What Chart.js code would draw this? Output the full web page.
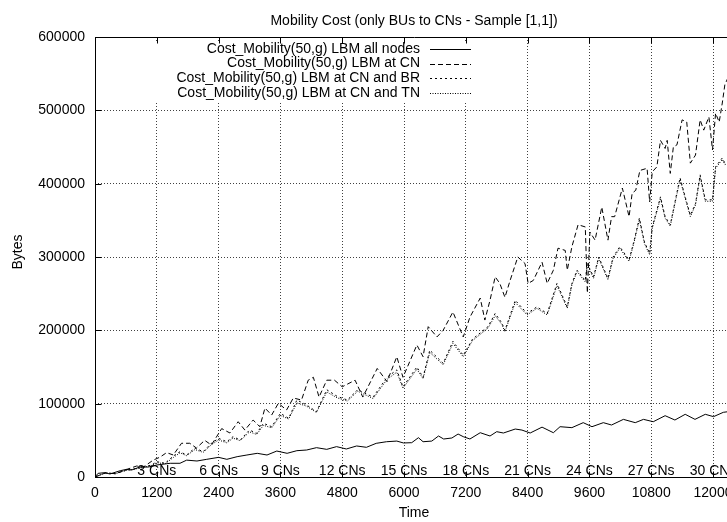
<!DOCTYPE html>
<html>
<head>
<meta charset="utf-8">
<title>Mobility Cost</title>
<script src="https://cdn.jsdelivr.net/npm/chart.js@4.4.1/dist/chart.umd.min.js"></script>
<style>
  html, body { margin: 0; padding: 0; background: #fff; overflow: hidden; }
  canvas { display: block; }
</style>
</head>
<body>
<canvas id="costChart" width="760" height="522"></canvas>
<script>
// Axis ticks and the "N CNs" markers along the bottom
const xTicks = [0, 1200, 2400, 3600, 4800, 6000, 7200, 8400, 9600, 10800, 12000];
const yTicks = [0, 100000, 200000, 300000, 400000, 500000, 600000];
const cnLabelTimes = [1200, 2400, 3600, 4800, 6000, 7200, 8400, 9600, 10800, 12000];
const cnLabels = ["3 CNs", "6 CNs", "9 CNs", "12 CNs", "15 CNs", "18 CNs", "21 CNs", "24 CNs", "27 CNs", "30 CNs"];

const seriesLabels = [
  "Cost_Mobility(50,g) LBM all nodes",
  "Cost_Mobility(50,g) LBM at CN",
  "Cost_Mobility(50,g) LBM at CN and BR",
  "Cost_Mobility(50,g) LBM at CN and TN",
];

// LBM all nodes
const allTime = [0, 60, 190, 290, 490, 610, 710, 870, 1040, 1200,
  1460, 1650, 1780, 1980, 2170, 2400, 2560, 2760, 2950, 3150,
  3340, 3530, 3730, 3920, 4110, 4300, 4500, 4690, 4880, 5080,
  5270, 5460, 5660, 5860, 5990, 6150, 6280, 6370, 6540, 6670,
  6770, 6930, 7050, 7150, 7280, 7480, 7670, 7800, 7930, 8160,
  8290, 8450, 8680, 8900, 9030, 9260, 9480, 9650, 9870, 10030,
  10260, 10490, 10650, 10840, 11070, 11260, 11460, 11650, 11850, 12010,
  12200, 12390];
const allCost = [0, 5000, 5900, 4100, 8600, 10400, 9500, 13600, 13600, 16400,
  18700, 18700, 23000, 21800, 24100, 26800, 24100, 27700, 30000, 32300,
  30000, 35400, 32300, 35900, 36800, 40000, 37700, 41400, 38200, 42300,
  40500, 45900, 48100, 49000, 46400, 46800, 53600, 48100, 49000, 55900,
  51800, 53200, 58600, 55000, 51800, 60400, 55900, 61800, 60000, 65400,
  64000, 60000, 68000, 60400, 68600, 67300, 74100, 68600, 74100, 70900,
  78600, 74100, 78600, 75400, 83600, 77700, 85500, 78600, 85500, 82300,
  88200, 90000];

// LBM at CN
const cnTime = [0, 200, 400, 600, 810, 940, 1130, 1260, 1390, 1520,
  1680, 1840, 1970, 2130, 2260, 2460, 2620, 2780, 2910, 3070,
  3200, 3300, 3430, 3560, 3720, 3850, 4010, 4140, 4240, 4350,
  4500, 4650, 4800, 5050, 5200, 5480, 5670, 5860, 5980, 6250,
  6370, 6470, 6640, 6760, 6950, 7150, 7280, 7480, 7570, 7670,
  7770, 7860, 7960, 8060, 8210, 8350, 8410, 8510, 8680, 8780,
  8900, 8990, 9130, 9170, 9260, 9380, 9520, 9560, 9610, 9710,
  9840, 9960, 10030, 10090, 10240, 10370, 10430, 10500, 10580, 10720,
  10770, 10820, 10910, 10980, 11070, 11110, 11170, 11230, 11300, 11400,
  11490, 11560, 11660, 11750, 11820, 11920, 11990, 12050, 12120, 12180,
  12230, 12390];
const cnCost = [0, 5500, 4500, 10000, 15000, 13600, 23000, 27000, 33200, 30000,
  46000, 46000, 39500, 50000, 43600, 66000, 60000, 75400, 64000, 77700,
  68600, 94000, 84500, 100500, 91400, 107700, 105000, 132000, 136000, 109000,
  132000, 132000, 123000, 132000, 109000, 148000, 130000, 164000, 136000, 180000,
  164000, 205000, 191000, 200000, 225000, 191000, 218000, 244000, 214000, 241000,
  273000, 264000, 245000, 268000, 300000, 291000, 264000, 268000, 293000, 264000,
  282000, 312000, 309000, 282000, 314000, 344000, 341000, 251000, 334000, 323000,
  368000, 323000, 355000, 355000, 394000, 355000, 387000, 391000, 418000, 421000,
  375000, 416000, 423000, 459000, 448000, 459000, 414000, 450000, 453000, 487000,
  484000, 428000, 439000, 487000, 473000, 491000, 446000, 496000, 484000, 510000,
  535000, 560000];

// LBM at CN and BR / at CN and TN (same sampling times)
const brTime = [0, 200, 400, 600, 870, 1100, 1200, 1360, 1520, 1650,
  1780, 1940, 2100, 2260, 2400, 2560, 2680, 2820, 3000, 3140,
  3270, 3430, 3600, 3760, 3920, 4110, 4300, 4500, 4700, 4900,
  5100, 5400, 5670, 5860, 5980, 6250, 6370, 6500, 6760, 6950,
  7150, 7330, 7630, 7770, 7900, 7960, 8160, 8390, 8580, 8780,
  8970, 9170, 9260, 9360, 9520, 9560, 9680, 9780, 9960, 10060,
  10190, 10370, 10470, 10570, 10670, 10770, 10820, 10980, 11070, 11170,
  11270, 11360, 11460, 11560, 11660, 11750, 11850, 11990, 12050, 12180,
  12230, 12390];
const brCost = [0, 5500, 4500, 9000, 12300, 16400, 20900, 18700, 28600, 34500,
  30000, 39500, 34500, 46000, 52700, 48100, 55000, 50500, 64000, 59600,
  73200, 68600, 86800, 80000, 105000, 98200, 89000, 119000, 110000, 105000,
  119000, 109000, 136000, 146000, 123000, 150000, 136000, 173000, 155000, 185000,
  166000, 188000, 205000, 223000, 210000, 200000, 241000, 223000, 232000, 223000,
  264000, 232000, 264000, 282000, 268000, 291000, 273000, 300000, 271000, 300000,
  314000, 296000, 323000, 353000, 320000, 305000, 341000, 382000, 355000, 344000,
  378000, 408000, 382000, 357000, 373000, 412000, 378000, 378000, 423000, 435000,
  428000, 432000];
const tnCost = [0, 5500, 4500, 9000, 12000, 15800, 19500, 18000, 26500, 33000,
  29000, 37500, 33500, 44000, 50500, 46500, 53000, 49500, 61500, 58000,
  70500, 67000, 84000, 79000, 101000, 96500, 88000, 116000, 108000, 103500,
  117000, 107000, 133000, 143000, 121000, 147000, 134000, 170000, 153000, 182000,
  164000, 186000, 203000, 220000, 208000, 198000, 238000, 221000, 230000, 221000,
  261000, 230000, 262000, 280000, 266000, 289000, 271000, 298000, 269000, 298000,
  312000, 294000, 321000, 351000, 318000, 303000, 339000, 380000, 353000, 342000,
  376000, 406000, 380000, 355000, 371000, 410000, 376000, 376000, 421000, 433000,
  426000, 430000];

const FONT = "'Liberation Sans', Arial, Helvetica, sans-serif";

function toPoints(times, values) {
  return times.map((t, i) => ({ x: t, y: values[i] }));
}

// gnuplot style extras: key, frame, inward ticks, labels
const gnuplotDecor = {
  id: "gnuplotDecor",
  afterDatasetsDraw(chart) {
    const ctx = chart.ctx;
    const area = chart.chartArea;
    const xs = chart.scales.x;
    const ys = chart.scales.y;
    ctx.save();

    // opaque key
    ctx.fillStyle = "#fff";
    ctx.fillRect(145, 42, 333, 60);
    ctx.font = "14px " + FONT;
    ctx.textAlign = "right";
    ctx.textBaseline = "middle";
    ctx.fillStyle = "#000";
    ctx.strokeStyle = "#000";
    ctx.lineWidth = 1;
    chart.data.datasets.forEach((ds, i) => {
      const y = 49 + i * 14.6;
      ctx.fillText(ds.label, 420, y);
      ctx.setLineDash(ds.borderDash || []);
      ctx.beginPath();
      ctx.moveTo(430, Math.round(y) + 0.5);
      ctx.lineTo(471, Math.round(y) + 0.5);
      ctx.stroke();
    });
    ctx.setLineDash([]);

    // frame
    const l = Math.round(area.left) + 0.5;
    const t = Math.round(area.top) + 0.5;
    const b = Math.round(area.bottom) + 0.5;
    const r = Math.round(area.right) + 0.5;
    ctx.beginPath();
    ctx.moveTo(l, t);
    ctx.lineTo(r, t);
    ctx.lineTo(r, b);
    ctx.lineTo(l, b);
    ctx.closePath();
    ctx.stroke();

    // inward tick marks
    ctx.beginPath();
    xTicks.forEach((v) => {
      const px = Math.round(xs.getPixelForValue(v)) + 0.5;
      ctx.moveTo(px, b);
      ctx.lineTo(px, b - 6);
      ctx.moveTo(px, t);
      ctx.lineTo(px, t + 6);
    });
    yTicks.forEach((v) => {
      const py = Math.round(ys.getPixelForValue(v)) + 0.5;
      ctx.moveTo(l, py);
      ctx.lineTo(l + 6, py);
    });
    ctx.stroke();

    // CN count labels
    ctx.textAlign = "center";
    ctx.textBaseline = "alphabetic";
    cnLabelTimes.forEach((v, i) => {
      ctx.fillText(cnLabels[i], xs.getPixelForValue(v), area.bottom - 2);
    });
    ctx.restore();
  },
  afterDraw(chart) {
    const ctx = chart.ctx;
    const area = chart.chartArea;
    const cx = (area.left + area.right) / 2;
    ctx.save();
    ctx.font = "14px " + FONT;
    ctx.fillStyle = "#000";
    ctx.textAlign = "center";
    ctx.textBaseline = "middle";
    ctx.fillText("Mobility Cost (only BUs to CNs - Sample [1,1])", cx, 21);
    ctx.fillText("Time", cx, 513);
    ctx.translate(18, 252);
    ctx.rotate(-Math.PI / 2);
    ctx.fillText("Bytes", 0, 0);
    ctx.restore();
  },
};

const ctx = document.getElementById("costChart").getContext("2d");
Chart.defaults.font.family = FONT;
Chart.defaults.font.size = 14;
Chart.defaults.color = "#000";

const costChart = new Chart(ctx, {
  type: "line",
  data: {
    datasets: [
      { label: seriesLabels[0], data: toPoints(allTime, allCost), borderDash: [] },
      { label: seriesLabels[1], data: toPoints(cnTime, cnCost), borderDash: [5, 3] },
      { label: seriesLabels[2], data: toPoints(brTime, brCost), borderDash: [2, 3] },
      { label: seriesLabels[3], data: toPoints(brTime, tnCost), borderDash: [1, 1.5] },
    ],
  },
  options: {
    responsive: false,
    animation: false,
    events: [],
    layout: { padding: { top: 37, right: 27, left: 0, bottom: 0 } },
    elements: {
      line: { borderColor: "#000", borderWidth: 1, tension: 0, fill: false },
      point: { radius: 0 },
    },
    scales: {
      x: {
        type: "linear",
        min: 0,
        max: 12388,
        afterBuildTicks: (scale) => {
          scale.ticks = xTicks.map((v) => ({ value: v }));
        },
        afterFit: (scale) => {
          scale.height = 45;
        },
        ticks: {
          autoSkip: false,
          maxRotation: 0,
          padding: 8,
          callback: (v) => String(v),
        },
        grid: { color: "rgba(0,0,0,0.75)", drawTicks: false },
        border: { display: false, dash: [1, 2] },
      },
      y: {
        min: 0,
        max: 600000,
        afterBuildTicks: (scale) => {
          scale.ticks = yTicks.map((v) => ({ value: v }));
        },
        afterFit: (scale) => {
          scale.width = 95;
        },
        ticks: {
          padding: 10,
          callback: (v) => String(v),
        },
        grid: { color: "rgba(0,0,0,0.75)", drawTicks: false },
        border: { display: false, dash: [1, 2] },
      },
    },
    plugins: {
      legend: { display: false },
      tooltip: { enabled: false },
      title: { display: false },
    },
  },
  plugins: [gnuplotDecor],
});
</script>
</body>
</html>
